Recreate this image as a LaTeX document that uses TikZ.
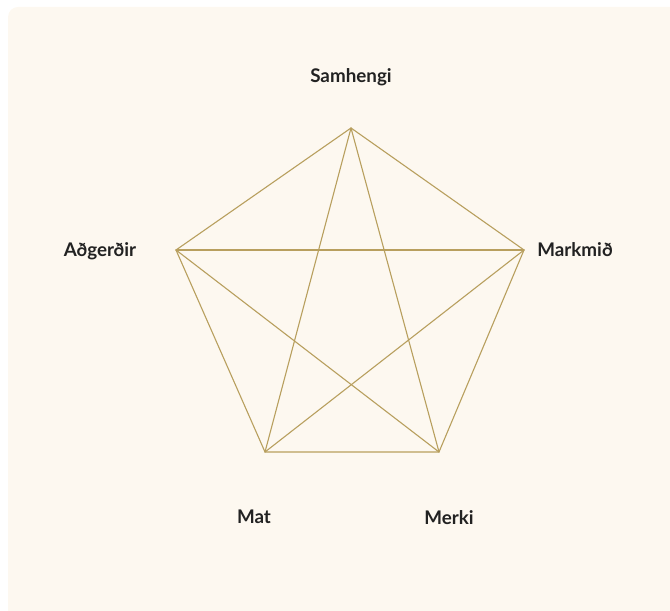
\documentclass[tikz,border=0pt]{standalone}
\usepackage{fontspec}
\setmainfont{Lato}
\usepackage{xcolor}
\usepackage{tikz}
\usetikzlibrary{positioning, calc}

\definecolor{cream}{HTML}{FDF8F0}
\definecolor{gold}{HTML}{B89F5E}
\definecolor{ink}{HTML}{222222}

\begin{document}
\begin{tikzpicture}[
          x=1pt, y=1pt,
          font=\fontsize{18.8}{21}\selectfont\bfseries,
          lbl/.style={text=ink, inner sep=0pt, anchor=base},
          edge/.style={draw=gold, line width=1.1pt, line cap=round}]
        \useasboundingbox (0,0) rectangle (670,611);
        \fill[cream, rounded corners=10pt] (8,-20) rectangle (690,604);
        % corners of the pentagon
        \coordinate (top) at (351,483);
        \coordinate (lft) at (176,361);
        \coordinate (rgt) at (524,361);
        \coordinate (bl) at (265,159);
        \coordinate (br) at (439,159);
        % labels
        \node[lbl] (samhengi) at (351,528) {Samhengi};
        \node[lbl] (adgerdir) at (100,354) {Aðgerðir};
        \node[lbl] (markmid) at (575,354) {Markmið};
        \node[lbl] (mat) at (254,87) {Mat};
        \node[lbl] (merki) at (449,86) {Merki};
        % outline
        \draw[edge] (top)--(rgt)--(br)--(bl)--(lft)--cycle;
        % star
        \draw[edge] (top)--(bl); \draw[edge] (top)--(br);
        \draw[edge] (lft)--(rgt); \draw[edge] (lft)--(br);
        \draw[edge] (rgt)--(bl);
      \end{tikzpicture}
\end{document}
